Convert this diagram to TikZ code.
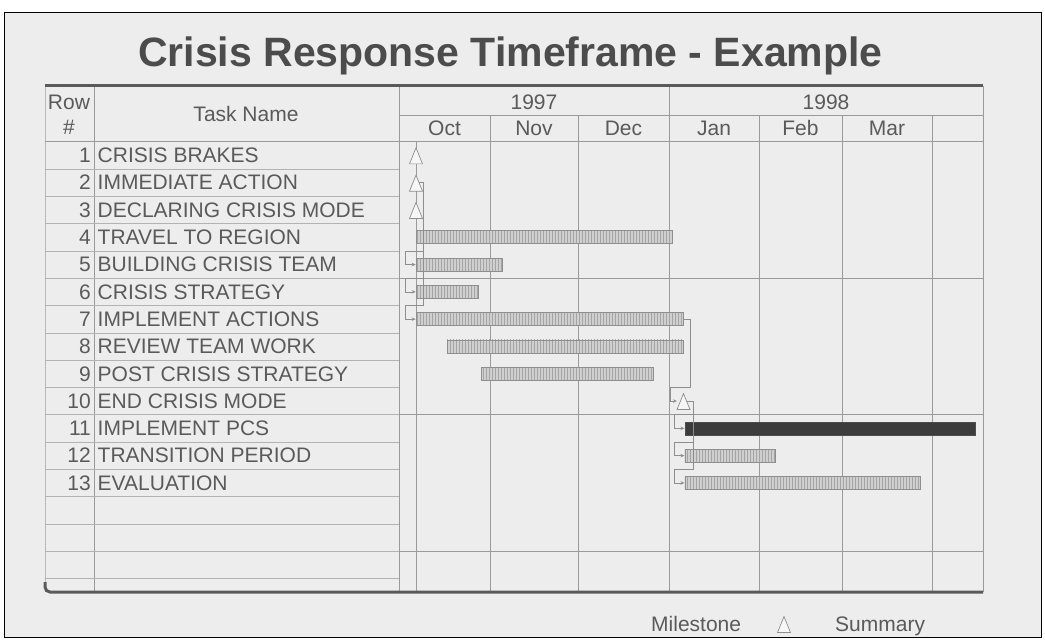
\documentclass[tikz,border=0pt]{standalone}
\usepackage{fontspec}
\setmainfont{Liberation Sans}
\usetikzlibrary{patterns}
\usetikzlibrary{arrows.meta}
\definecolor{paper}{HTML}{EDEDED}
\definecolor{ink}{HTML}{5A5A5A}
\definecolor{rule}{HTML}{9A9A9A}
\definecolor{barfill}{HTML}{CFCFCF}
\definecolor{barline}{HTML}{8E8E8E}
\definecolor{critbar}{HTML}{3C3C3C}

\tikzset{
  txt/.style={inner sep=0, text=ink, font=\fontsize{21}{21}\selectfont},
  taskbar/.style={draw=barline, line width=0.7pt, inner sep=0, minimum height=13pt, anchor=west, preaction={fill=barfill}, pattern=vertical lines, pattern color=barline!80},
  darkbar/.style={draw=black!70, fill=critbar, line width=0.7pt, inner sep=0, minimum height=13pt, anchor=west},
  link/.style={draw=barline, line width=0.7pt, -{Stealth[length=4pt,width=3.5pt]}},
  gridline/.style={draw=rule, line width=0.6pt},
  milestone/.pic={\draw[barline, fill=paper!50!white, line width=0.7pt] (0,-7.5) -- (6.5,8.5) -- (-6.5,8.5) -- cycle;}
}

\begin{document}
\begin{tikzpicture}[x=1pt,y=-1pt]
\useasboundingbox (0,0) rectangle (1045,640);

%paper
\fill[white] (0,0) rectangle (1045,640);
\draw[fill=paper, line width=1pt] (4,12) rectangle (1041,637);

%Title
\node[txt, anchor=base west, text=ink!85!black, font=\fontsize{41}{41}\selectfont\bfseries] (title) at (138,66) {Crisis Response Timeframe - Example};

%Grid
\draw[gridline, rule!70] (45,86) -- (45,584);
\draw[gridline] (94,86) -- (94,592);
\draw[gridline] (399,86) -- (399,592);
\draw[gridline] (669,86) -- (669,592);
\draw[gridline] (983,86) -- (983,592);
\foreach \x in {490,578,759,842,932}
  \draw[gridline] (\x,115) -- (\x,592);
\draw[gridline] (399,115) -- (983,115);
\draw[gridline] (45,141.7) -- (983,141.7);
\foreach \k in {1,...,16}
  \draw[gridline, rule!75] (45,141.7+27.3*\k) -- (399,141.7+27.3*\k);
\foreach \k in {5,10,15}
  \draw[gridline, line width=1.2pt] (399,141.7+27.3*\k) -- (983,141.7+27.3*\k);
\draw[gridline] (416,141.7) -- (416,592);

%Frame rules
\draw[ink, line width=3pt] (45,85.5) -- (983,85.5);
\draw[ink, line width=3pt, rounded corners=5pt] (45,582) -- (45,592) -- (983,592);

%Header
\node[txt, anchor=base] (rowhead) at (69,109) {Row};
\node[txt, anchor=base] (hash) at (69,134) {\#};
\node[txt, anchor=base] (taskhead) at (246,121) {Task Name};
\node[txt, anchor=base] (y97) at (534,109) {1997};
\node[txt, anchor=base] (y98) at (826,109) {1998};
\foreach \m/\x in {Oct/444.5, Nov/534, Dec/623.5, Jan/714, Feb/800.5, Mar/887}
  \node[txt, anchor=base] (\m) at (\x,135) {\m};

%Tasks
\foreach \i/\t in {1/CRISIS BRAKES, 2/IMMEDIATE ACTION, 3/DECLARING CRISIS MODE,
  4/TRAVEL TO REGION, 5/BUILDING CRISIS TEAM, 6/CRISIS STRATEGY,
  7/IMPLEMENT ACTIONS, 8/REVIEW TEAM WORK, 9/POST CRISIS STRATEGY,
  10/END CRISIS MODE, 11/IMPLEMENT PCS, 12/TRANSITION PERIOD, 13/EVALUATION}
{
  \node[txt, anchor=base east] (num\i) at (91,135.35+27.3*\i) {\i};
  \node[txt, anchor=base west] (task\i) at (97.5,135.35+27.3*\i) {\t};
}

%Bars
\node[taskbar, minimum width=256.6pt] (t4) at (415.7,237.25) {};
\node[taskbar, minimum width=86.6pt] (t5) at (415.7,264.55) {};
\node[taskbar, minimum width=62.6pt] (t6) at (415.7,291.85) {};
\node[taskbar, minimum width=267.6pt] (t7) at (415.7,319.15) {};
\node[taskbar, minimum width=236.6pt] (t8) at (446.7,346.45) {};
\node[taskbar, minimum width=171.7pt] (t9) at (481,373.75) {};
\node[darkbar, minimum width=290.5pt] (t11) at (684.5,428.35) {};
\node[taskbar, minimum width=90.5pt] (t12) at (684.5,455.65) {};
\node[taskbar, minimum width=235.5pt] (t13) at (684.5,482.95) {};

%Milestones
\coordinate (m1) at (416,155.35);
\coordinate (m2) at (416,182.65);
\coordinate (m3) at (416,209.95);
\coordinate (m10) at (683.5,401.05);

%Links
\foreach \s in {t5,t6,t7}
  \draw[link] (m2) -- ++(7,0) |- ([xshift=-10pt,yshift=13.65pt]\s.west) |- (\s.west);
\draw[link] (t7.east) -- ++(6,0) |- ([xshift=-13pt,yshift=13.65pt]m10) |- ([xshift=-6.5pt]m10);
\foreach \s in {t11,t12,t13}
  \draw[link] (m10) -- ++(9.5,0) |- ([xshift=-10pt,yshift=13.65pt]\s.west) |- (\s.west);

\foreach \c in {m1,m2,m3,m10}
  \pic at (\c) {milestone};

%Legend
\node[txt, anchor=base west] (legms) at (651,631) {Milestone};
\pic at (784,624) {milestone};
\node[txt, anchor=base west] (legsum) at (835,631) {Summary};

\end{tikzpicture}
\end{document}
